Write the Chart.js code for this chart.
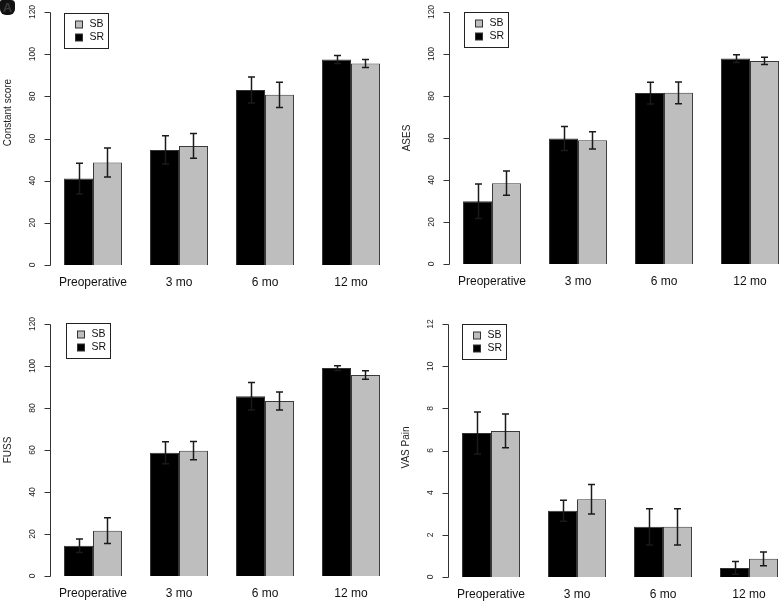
<!DOCTYPE html>
<html>
<head>
<meta charset="utf-8">
<script src="https://cdn.jsdelivr.net/npm/chart.js@4.4.1/dist/chart.umd.min.js"></script>
<style>
  body { margin: 0; width: 780px; height: 601px; overflow: hidden; background: #fff; position: relative; font-family: 'Liberation Sans', Arial, sans-serif; }
  canvas { position: absolute; }
  #tag { position: absolute; left: 0; top: 0; width: 15px; height: 15px; background: #111; color: #3a3a3a;
         font: bold 13px 'Liberation Sans', Arial, sans-serif; line-height: 15px; text-align: center; border-radius: 2px 4px 6px 6px; }
</style>
</head>
<body>
<div id="tag">A</div>
<canvas id="c1" width="400" height="300" style="left:0;top:0"></canvas>
<canvas id="c2" width="410" height="300" style="left:390px;top:0"></canvas>
<canvas id="c3" width="400" height="301" style="left:0;top:300px"></canvas>
<canvas id="c4" width="410" height="301" style="left:390px;top:300px"></canvas>
<script>
// categories and tick labels
const categories = ['Preoperative', '3 mo', '6 mo', '12 mo'];
const scoreTicks = [0, 20, 40, 60, 80, 100, 120];
const vasTicks = [0, 2, 4, 6, 8, 10, 12];

// Constant score (mean, SD)
const constantSR = [41.0, 54.6, 83.0, 97.5];
const constantSRsd = [7.3, 6.7, 6.2, 1.9];
const constantSB = [48.6, 56.5, 80.7, 95.6];
const constantSBsd = [6.9, 5.9, 6.0, 1.9];

// ASES
const asesSR = [29.9, 59.8, 81.4, 97.8];
const asesSRsd = [8.2, 5.7, 5.2, 1.9];
const asesSB = [38.5, 58.9, 81.5, 96.7];
const asesSBsd = [5.8, 4.1, 5.2, 1.7];

// FUSS
const fussSR = [14.4, 58.7, 85.6, 99.0];
const fussSRsd = [3.2, 5.2, 6.5, 1.1];
const fussSB = [21.6, 59.7, 83.3, 95.7];
const fussSBsd = [6.1, 4.4, 4.3, 2.0];

// VAS pain
const vasSR = [6.83, 3.14, 2.38, 0.43];
const vasSRsd = [1.0, 0.5, 0.86, 0.3];
const vasSB = [6.93, 3.69, 2.38, 0.86];
const vasSBsd = [0.8, 0.7, 0.86, 0.33];

const FONT = "'Liberation Sans', Arial, sans-serif";

// R style y axis: line only from first to last tick, rotated labels
const rAxis = {
    id: 'rAxis',
    afterDraw(chart) {
        const o = chart.options.plugins.rAxis;
        const ctx = chart.ctx;
        const y = chart.scales.y;
        const x0 = Math.round(chart.chartArea.left) + 0.5;
        const yTop = y.getPixelForValue(o.ticks[o.ticks.length - 1]);
        const yBot = y.getPixelForValue(o.ticks[0]);
        ctx.save();
        ctx.strokeStyle = '#333';
        ctx.lineWidth = 1;
        ctx.beginPath();
        ctx.moveTo(x0, Math.round(yTop) + 0.5);
        ctx.lineTo(x0, Math.round(yBot) + 0.5);
        o.ticks.forEach(t => {
            const py = Math.round(y.getPixelForValue(t)) + 0.5;
            ctx.moveTo(x0 - 6, py);
            ctx.lineTo(x0, py);
        });
        ctx.stroke();
        ctx.fillStyle = '#222';
        ctx.textAlign = 'center';
        ctx.textBaseline = 'middle';
        ctx.font = '8.5px ' + FONT;
        o.ticks.forEach(t => {
            ctx.save();
            ctx.translate(x0 - 18, y.getPixelForValue(t));
            ctx.rotate(-Math.PI / 2);
            ctx.fillText(String(t), 0, 0);
            ctx.restore();
        });
        ctx.font = '10px ' + FONT;
        ctx.translate(x0 - 42, (yTop + yBot) / 2 + (o.titleShift || 0));
        ctx.rotate(-Math.PI / 2);
        ctx.fillText(o.title, 0, 0);
        ctx.restore();
    }
};

// error bars (mean +/- SD)
const errBars = {
    id: 'errBars',
    afterDatasetsDraw(chart) {
        const sds = chart.options.plugins.errBars.sd;
        const ctx = chart.ctx;
        const y = chart.scales.y;
        ctx.save();
        ctx.strokeStyle = '#1a1a1a';
        ctx.lineWidth = 1.5;
        chart.data.datasets.forEach((ds, i) => {
            chart.getDatasetMeta(i).data.forEach((bar, j) => {
                const v = ds.data[j], s = sds[i][j];
                const top = y.getPixelForValue(v + s);
                const bot = y.getPixelForValue(Math.max(0, v - s));
                const x = Math.round(bar.x) + 0.5;
                ctx.beginPath();
                ctx.moveTo(x, top); ctx.lineTo(x, bot);
                ctx.moveTo(x - 3.5, top); ctx.lineTo(x + 3.5, top);
                ctx.moveTo(x - 3.5, bot); ctx.lineTo(x + 3.5, bot);
                ctx.stroke();
            });
        });
        ctx.restore();
    }
};

// boxed legend in the top left corner, SB listed first
const boxLegend = {
    id: 'boxLegend',
    afterDraw(chart) {
        const o = chart.options.plugins.boxLegend;
        const ctx = chart.ctx;
        const bx = Math.round(chart.chartArea.left + o.dx) + 0.5;
        const by = Math.round(chart.chartArea.top + o.dy) + 0.5;
        ctx.save();
        ctx.strokeStyle = '#222';
        ctx.lineWidth = 1;
        ctx.strokeRect(bx, by, 44, 35);
        const items = [chart.data.datasets[1], chart.data.datasets[0]];
        ctx.font = '10.5px ' + FONT;
        ctx.textBaseline = 'middle';
        items.forEach((ds, k) => {
            const cy = by + 11 + k * 13;
            ctx.fillStyle = ds.backgroundColor;
            ctx.fillRect(bx + 11, cy - 3.5, 7, 7);
            ctx.strokeStyle = '#333';
            ctx.strokeRect(bx + 11, cy - 3.5, 7, 7);
            ctx.fillStyle = '#111';
            ctx.fillText(ds.label, bx + 25, cy);
        });
        ctx.restore();
    }
};

function makePanel(id, p) {
    new Chart(document.getElementById(id), {
        type: 'bar',
        data: {
            labels: categories,
            datasets: [
                { label: 'SR', data: p.sr, backgroundColor: '#000000', borderColor: '#333', borderWidth: 1 },
                { label: 'SB', data: p.sb, backgroundColor: '#bebebe', borderColor: '#3a3a3a', borderWidth: 1 }
            ]
        },
        options: {
            responsive: false,
            animation: false,
            layout: { padding: p.pad },
            categoryPercentage: 0.674,
            barPercentage: 1.0,
            scales: {
                x: {
                    grid: { display: false, drawTicks: false },
                    border: { display: false },
                    ticks: { color: '#111', font: { family: FONT, size: 12 }, padding: 10, maxRotation: 0 },
                    afterFit: s => { s.height = 24; }
                },
                y: { display: false, min: 0, max: p.ticks[p.ticks.length - 1] }
            },
            plugins: {
                legend: { display: false },
                tooltip: { enabled: false },
                rAxis: { ticks: p.ticks, title: p.title, titleShift: p.titleShift },
                errBars: { sd: [p.srSd, p.sbSd] },
                boxLegend: { dx: p.legDx, dy: p.legDy }
            }
        },
        plugins: [errBars, rAxis, boxLegend]
    });
}

makePanel('c1', { title: 'Constant score', sr: constantSR, srSd: constantSRsd, sb: constantSB, sbSd: constantSBsd,
    ticks: scoreTicks, titleShift: -26, legDx: 14, legDy: 1,
    pad: { left: 50, right: 6, top: 12, bottom: 11 } });
makePanel('c2', { title: 'ASES', sr: asesSR, srSd: asesSRsd, sb: asesSB, sbSd: asesSBsd,
    ticks: scoreTicks, titleShift: 0, legDx: 15, legDy: 0,
    pad: { left: 59, right: 7, top: 12, bottom: 12 } });
makePanel('c3', { title: 'FUSS', sr: fussSR, srSd: fussSRsd, sb: fussSB, sbSd: fussSBsd,
    ticks: scoreTicks, titleShift: 0, legDx: 16, legDy: -1,
    pad: { left: 50, right: 6, top: 24, bottom: 1 } });
makePanel('c4', { title: 'VAS Pain', sr: vasSR, srSd: vasSRsd, sb: vasSB, sbSd: vasSBsd,
    ticks: vasTicks, titleShift: -3, legDx: 14, legDy: 0,
    pad: { left: 58, right: 8, top: 24, bottom: 0 } });
</script>
</body>
</html>
